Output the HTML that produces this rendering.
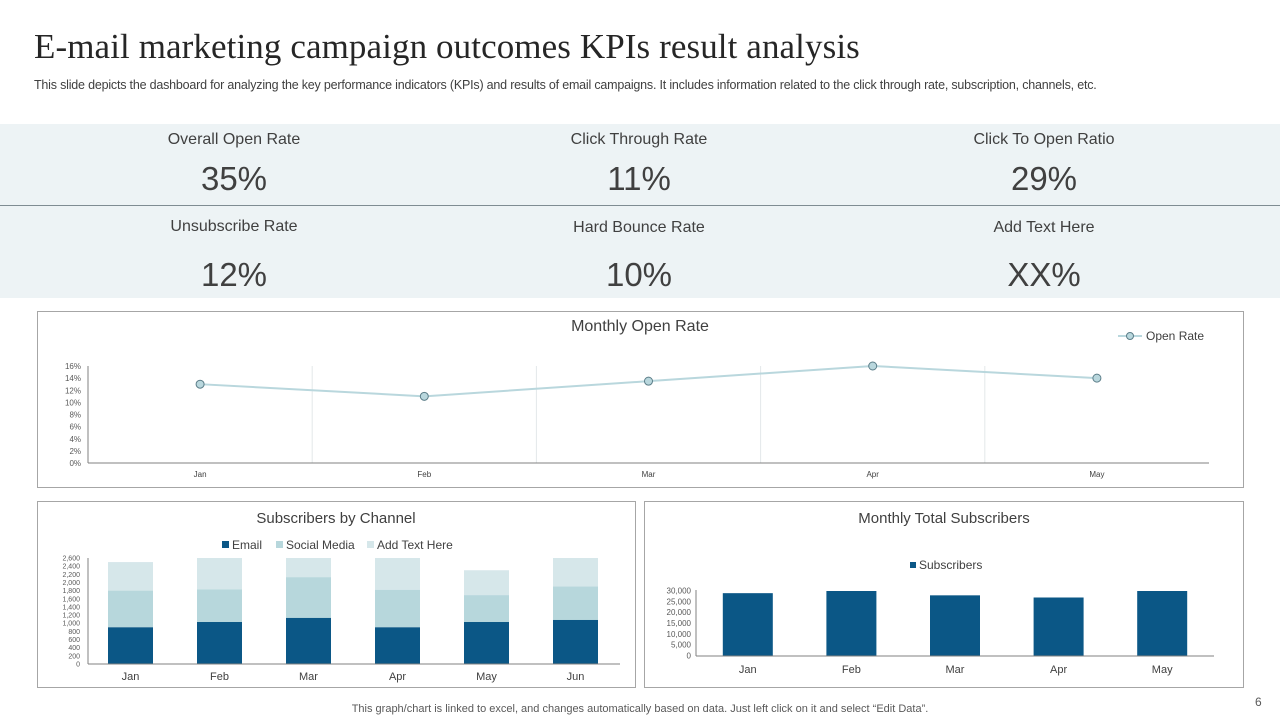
<!DOCTYPE html>
<html><head><meta charset="utf-8">
<style>
body{margin:0;width:1280px;height:720px;background:#fff;font-family:"Liberation Sans",sans-serif;overflow:hidden;position:relative;color:#333}
.abs{position:absolute}
.kpi-label{position:absolute;font-size:16px;color:#404040;text-align:center;width:300px}
.kpi-val{position:absolute;font-size:33px;color:#404040;text-align:center;width:300px}
</style></head>
<body>
<div class="abs" style="left:34px;top:27px;font-family:'Liberation Serif',serif;font-size:35px;color:#262626;letter-spacing:0.1px;font-weight:normal;white-space:nowrap">E-mail marketing campaign outcomes KPIs result analysis</div>
<div class="abs" style="left:34px;top:78px;font-size:12.5px;color:#404040;letter-spacing:-0.2px;white-space:nowrap">This slide depicts the dashboard for analyzing the key performance indicators (KPIs) and results of email campaigns. It includes information related to the click through rate, subscription, channels, etc.</div>

<div class="abs" style="left:0;top:124px;width:1280px;height:174px;background:#edf3f5"></div>
<div class="abs" style="left:0;top:205px;width:1280px;height:1px;background:#7f8c92"></div>

<div class="kpi-label" style="left:84px;top:131px">Overall Open Rate</div>
<div class="kpi-val" style="left:84px;top:160px">35%</div>
<div class="kpi-label" style="left:489px;top:131px">Click Through Rate</div>
<div class="kpi-val" style="left:489px;top:160px">11%</div>
<div class="kpi-label" style="left:894px;top:131px">Click To Open Ratio</div>
<div class="kpi-val" style="left:894px;top:160px">29%</div>
<div class="kpi-label" style="left:84px;top:218px">Unsubscribe Rate</div>
<div class="kpi-val" style="left:84px;top:256px">12%</div>
<div class="kpi-label" style="left:489px;top:219px">Hard Bounce Rate</div>
<div class="kpi-val" style="left:489px;top:256px">10%</div>
<div class="kpi-label" style="left:894px;top:219px">Add Text Here</div>
<div class="kpi-val" style="left:894px;top:256px">XX%</div>

<svg id="svg" class="abs" style="left:0;top:0" width="1280" height="720" font-family="Liberation Sans, sans-serif"></svg>

<div class="abs" style="left:0;width:1280px;text-align:center;top:703px;font-size:11px;color:#595959">This graph/chart is linked to excel, and changes automatically based on data. Just left click on it and select “Edit Data”.</div>
<div class="abs" style="left:1255px;top:695px;font-size:12px;color:#595959">6</div>

<script>
const lineCats=["Jan","Feb","Mar","Apr","May"];
const openRate=[13,11,13.5,16,14];
const lineTicks=[0,2,4,6,8,10,12,14,16];

const stackCats=["Jan","Feb","Mar","Apr","May","Jun"];
const emailVals=[900,1030,1130,900,1030,1080];
const socialVals=[900,800,1000,920,660,820];
const otherVals=[700,770,470,780,610,700];
const stackTicks=[0,200,400,600,800,1000,1200,1400,1600,1800,2000,2200,2400,2600];

const subCats=["Jan","Feb","Mar","Apr","May"];
const subVals=[29000,30000,28000,27000,30000];
const subTicks=[0,5000,10000,15000,20000,25000,30000];

const svg=document.getElementById('svg');
const NS='http://www.w3.org/2000/svg';
function mk(tag,attrs,parent){const e=document.createElementNS(NS,tag);for(const k in attrs)e.setAttribute(k,attrs[k]);(parent||svg).appendChild(e);return e;}
function txt(s,attrs){const e=mk('text',attrs);e.textContent=s;return e;}
const fmt=n=>n.toLocaleString('en-US');

let f;
f=mk('rect',{x:37.5,y:311.5,width:1206,height:176,fill:'#fff',stroke:'#a6a6a6'});

f=mk('rect',{x:37.5,y:501.5,width:598,height:186,fill:'#fff',stroke:'#a6a6a6'});

f=mk('rect',{x:644.5,y:501.5,width:599,height:186,fill:'#fff',stroke:'#a6a6a6'});


{
const x0=88,x1=1209,y0=463,ymax=16,h=97;
const band=(x1-x0)/lineCats.length;
const X=i=>x0+band*(i+0.5);
const Y=v=>y0-v/ymax*h;
let t=txt('Monthly  Open Rate',{x:640,y:331,'font-size':16,fill:'#404040','text-anchor':'middle'});

for(let i=1;i<lineCats.length;i++){const g=mk('line',{x1:x0+band*i,x2:x0+band*i,y1:366,y2:y0,stroke:'#e3e8ea'});
}
lineTicks.forEach(v=>{const e=txt(v+'%',{x:81,y:Y(v)+3,'font-size':8,fill:'#595959','text-anchor':'end'});
});
let a=mk('line',{x1:x0,x2:x0,y1:366,y2:y0,stroke:'#808080'});
a=mk('line',{x1:x0,x2:x1,y1:y0,y2:y0,stroke:'#808080'});
lineCats.forEach((c,i)=>{const e=txt(c,{x:X(i),y:477,'font-size':8,fill:'#404040','text-anchor':'middle'});
});
const pl=mk('polyline',{points:openRate.map((v,i)=>X(i)+','+Y(v)).join(' '),fill:'none',stroke:'#b9d7dd','stroke-width':2});

openRate.forEach((v,i)=>{const c=mk('circle',{cx:X(i),cy:Y(v),r:4,fill:'#b9d7dd',stroke:'#5b7d88','stroke-width':1});
});
const lg=mk('line',{x1:1118,x2:1142,y1:336,y2:336,stroke:'#b9d7dd','stroke-width':2});

const lc=mk('circle',{cx:1130,cy:336,r:3.5,fill:'#b9d7dd',stroke:'#5b7d88'});

t=txt('Open Rate',{x:1146,y:340,'font-size':12,fill:'#404040'});

}

{
const x0=86,x1=620,y0=664,ymax=2600,h=106,bw=45;
const band=(x1-x0)/stackCats.length;
const X=i=>x0+band*(i+0.5);
const Y=v=>y0-v/ymax*h;
let t=txt('Subscribers by Channel',{x:336,y:523,'font-size':15,fill:'#404040','text-anchor':'middle'});

const leg=[['Email','#0b5786',222],['Social Media','#b7d7dc',276],['Add Text Here','#d6e7ea',367]];
leg.forEach(l=>{const r=mk('rect',{x:l[2],y:541,width:7,height:7,fill:l[1]});

const e=txt(l[0],{x:l[2]+10,y:549,'font-size':12,fill:'#404040'});
});
stackTicks.forEach(v=>{const e=txt(fmt(v),{x:80,y:Y(v)+2.5,'font-size':7,fill:'#595959','text-anchor':'end'});
});
let a=mk('line',{x1:88,x2:88,y1:558,y2:y0,stroke:'#808080'});
stackCats.forEach((c,i)=>{
 const cap=v=>Math.min(v,ymax);
 const e1=emailVals[i],s1=e1+socialVals[i],o1=s1+otherVals[i];
 let r=mk('rect',{x:X(i)-bw/2,y:Y(cap(o1)),width:bw,height:Y(cap(s1))-Y(cap(o1)),fill:'#d6e7ea'});
 
 r=mk('rect',{x:X(i)-bw/2,y:Y(cap(s1)),width:bw,height:Y(cap(e1))-Y(cap(s1)),fill:'#b7d7dc'});
 
 r=mk('rect',{x:X(i)-bw/2,y:Y(cap(e1)),width:bw,height:y0-Y(cap(e1)),fill:'#0b5786'});
 
 const e=txt(c,{x:X(i),y:680,'font-size':11,fill:'#404040','text-anchor':'middle'});
 
});
a=mk('line',{x1:88,x2:x1,y1:y0,y2:y0,stroke:'#808080'});
}

{
const x0=696,x1=1214,y0=656,ymax=30000,h=65,bw=50;
const band=(x1-x0)/subCats.length;
const X=i=>x0+band*(i+0.5);
const Y=v=>y0-v/ymax*h;
let t=txt('Monthly  Total Subscribers',{x:944,y:523,'font-size':15,fill:'#404040','text-anchor':'middle'});

let r=mk('rect',{x:910,y:562,width:6,height:6,fill:'#0b5786'});

t=txt('Subscribers',{x:919,y:569,'font-size':12,fill:'#404040'});

subTicks.forEach(v=>{const e=txt(fmt(v),{x:691,y:Y(v)+2.5,'font-size':8,fill:'#595959','text-anchor':'end'});
});
let a=mk('line',{x1:x0,x2:x0,y1:590,y2:y0,stroke:'#808080'});
subCats.forEach((c,i)=>{
 const b=mk('rect',{x:X(i)-bw/2,y:Y(subVals[i]),width:bw,height:y0-Y(subVals[i]),fill:'#0b5786'});
 
 const e=txt(c,{x:X(i),y:673,'font-size':11,fill:'#404040','text-anchor':'middle'});
 
});
a=mk('line',{x1:x0,x2:x1,y1:y0,y2:y0,stroke:'#808080'});
}
</script>
</body></html>
